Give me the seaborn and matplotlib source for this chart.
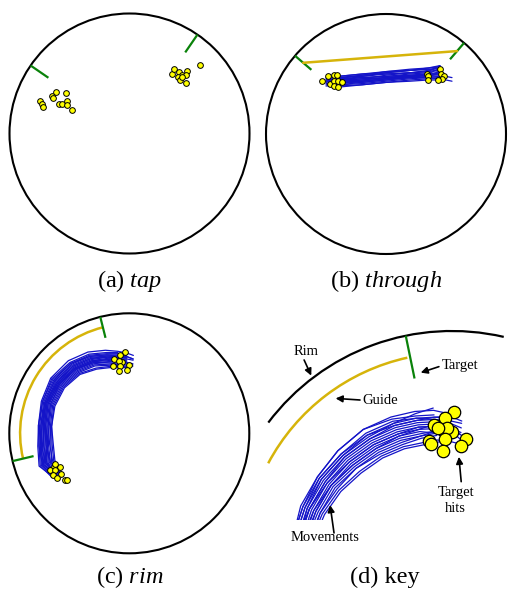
import numpy as np
import pandas as pd
import matplotlib
matplotlib.use("Agg")
import matplotlib.pyplot as plt
from matplotlib.patches import Circle, Arc
import seaborn as sns

# every panel uses the rim (touch surface edge) as the unit circle
RIM_R = 1.0
GUIDE_R = 0.91
TICK_IN = 0.82

# target tick angles (degrees)
tap_targets = [145.5, 55.5]
through_targets = [139.3, 49.4]
rim_targets = [193.4, 104.0]
key_target = 101.6

# (a) tap - hits only
tap_hits_x = [-0.75, -0.73, -0.72, -0.65, -0.64, -0.61, -0.53, -0.59, -0.56, -0.52, -0.52, -0.48,
              0.35, 0.37, 0.41, 0.44, 0.40, 0.48, 0.47, 0.42, 0.47, 0.59, 0.44]
tap_hits_y = [0.27, 0.25, 0.22, 0.31, 0.30, 0.35, 0.34, 0.25, 0.25, 0.27, 0.24, 0.20,
              0.50, 0.54, 0.51, 0.49, 0.47, 0.52, 0.49, 0.45, 0.42, 0.57, 0.47]

# (b) through
through_hits_x = [-0.53, -0.48, -0.47, -0.43, -0.41, -0.43, -0.40, -0.37, -0.43, -0.40,
                  0.34, 0.35, 0.35, 0.45, 0.46, 0.48, 0.47, 0.43]
through_hits_y = [0.44, 0.48, 0.42, 0.49, 0.49, 0.44, 0.44, 0.43, 0.40, 0.39,
                  0.50, 0.48, 0.45, 0.54, 0.50, 0.48, 0.46, 0.45]
through_x = [-0.50, -0.40, -0.20, 0.00, 0.20, 0.35, 0.45, 0.55]
through_traces = [
    [0.44, 0.45, 0.47, 0.48, 0.49, 0.50, 0.51, np.nan],
    [np.nan, 0.48, 0.50, 0.51, 0.53, 0.54, 0.55, np.nan],
    [0.42, 0.43, 0.44, 0.46, 0.47, 0.48, 0.47, np.nan],
    [np.nan, 0.40, 0.41, 0.43, 0.45, 0.46, 0.46, 0.44],
    [0.46, 0.47, 0.48, 0.50, 0.51, 0.52, 0.53, np.nan],
    [np.nan, 0.44, 0.46, 0.49, 0.51, 0.53, 0.55, np.nan],
    [0.45, 0.46, 0.47, 0.48, 0.50, 0.51, 0.50, np.nan],
    [np.nan, 0.39, 0.41, 0.43, 0.44, 0.45, 0.45, np.nan],
    [0.43, 0.45, 0.48, 0.51, 0.53, 0.55, 0.56, np.nan],
    [np.nan, 0.46, 0.49, 0.52, 0.53, 0.54, 0.52, np.nan],
    [0.41, 0.42, 0.44, 0.46, 0.48, 0.50, 0.51, np.nan],
    [np.nan, 0.43, 0.45, 0.47, 0.48, 0.49, 0.48, np.nan],
    [0.47, 0.48, 0.50, 0.52, 0.54, 0.55, 0.57, np.nan],
    [np.nan, 0.45, 0.46, 0.47, 0.49, 0.50, 0.49, 0.47],
    [0.44, 0.44, 0.45, 0.47, 0.48, 0.49, 0.52, np.nan],
    [np.nan, 0.42, 0.44, 0.46, 0.48, 0.50, 0.55, np.nan],
    [0.40, 0.41, 0.42, 0.44, 0.46, 0.47, 0.48, np.nan],
    [np.nan, 0.47, 0.49, 0.50, 0.51, 0.52, 0.57, np.nan],
    [0.45, 0.44, 0.43, 0.45, 0.47, 0.47, 0.46, np.nan],
    [np.nan, 0.41, 0.43, 0.45, 0.47, 0.49, 0.50, np.nan],
]

# (c) rim - movements sampled as radius at fixed angles (degrees)
rim_hits_x = [-0.04, -0.08, -0.13, -0.06, -0.09, 0.00, -0.14, -0.08, -0.02, -0.09,
              -0.63, -0.58, -0.66, -0.62, -0.57, -0.64, -0.60, -0.54, -0.52, -0.62]
rim_hits_y = [0.68, 0.65, 0.62, 0.59, 0.60, 0.57, 0.56, 0.56, 0.53, 0.52,
              -0.28, -0.28, -0.31, -0.31, -0.34, -0.35, -0.37, -0.39, -0.39, -0.26]
rim_angles = [210, 200, 188, 175, 160, 145, 130, 117, 106, 98, 92, 87]
rim_traces = [
    [0.65, 0.66, 0.64, 0.65, 0.66, 0.66, 0.64, 0.60, 0.57, 0.55, 0.55, np.nan],
    [0.67, 0.67, 0.65, 0.65, 0.67, 0.67, 0.65, 0.61, 0.58, 0.56, 0.56, 0.56],
    [0.68, 0.69, 0.66, 0.66, 0.68, 0.68, 0.66, 0.63, 0.59, 0.57, 0.57, np.nan],
    [0.66, 0.70, 0.68, 0.67, 0.69, 0.69, 0.67, 0.64, 0.60, 0.58, np.nan, np.nan],
    [0.70, 0.72, 0.69, 0.68, 0.70, 0.70, 0.68, 0.65, 0.62, 0.60, 0.59, 0.58],
    [0.69, 0.73, 0.70, 0.69, 0.71, 0.72, 0.70, 0.67, 0.63, 0.61, 0.60, np.nan],
    [0.71, 0.74, 0.71, 0.70, 0.72, 0.73, 0.71, 0.68, 0.64, 0.62, 0.62, np.nan],
    [0.72, 0.75, 0.72, 0.71, 0.73, 0.74, 0.72, 0.69, 0.66, 0.63, np.nan, np.nan],
    [0.70, 0.76, 0.73, 0.72, 0.74, 0.75, 0.73, 0.70, 0.67, 0.65, 0.64, 0.62],
    [0.73, 0.77, 0.74, 0.73, 0.75, 0.76, 0.75, 0.72, 0.68, 0.66, 0.65, np.nan],
    [0.72, 0.78, 0.75, 0.74, 0.76, 0.77, 0.76, 0.73, 0.69, 0.67, 0.66, np.nan],
    [0.74, 0.79, 0.76, 0.75, 0.77, 0.79, 0.77, 0.74, 0.70, 0.68, np.nan, np.nan],
    [0.73, 0.80, 0.77, 0.76, 0.78, 0.80, 0.79, 0.76, 0.72, 0.69, 0.67, 0.65],
    [0.68, 0.71, 0.69, 0.70, 0.72, 0.71, 0.69, 0.66, 0.62, 0.60, 0.61, np.nan],
    [0.66, 0.68, 0.67, 0.68, 0.70, 0.71, 0.70, 0.66, 0.61, 0.58, 0.58, 0.57],
    [0.71, 0.73, 0.72, 0.72, 0.74, 0.74, 0.73, 0.70, 0.66, 0.64, 0.63, np.nan],
    [0.74, 0.77, 0.76, 0.76, 0.77, 0.78, 0.76, 0.72, 0.68, 0.65, 0.64, 0.62],
    [0.69, 0.74, 0.74, 0.74, 0.75, 0.76, 0.74, 0.71, 0.67, 0.64, np.nan, np.nan],
    [0.67, 0.70, 0.70, 0.71, 0.73, 0.72, 0.70, 0.67, 0.64, 0.62, 0.62, 0.61],
    [0.72, 0.76, 0.75, 0.73, 0.74, 0.73, 0.71, 0.68, 0.65, 0.63, 0.63, np.nan],
]

# (d) key - magnified end of a rim gesture
key_hits_x = [0.01, -0.03, -0.08, -0.04, 0.00, -0.02, -0.03, 0.06, -0.10, -0.09, 0.04, -0.04, -0.06]
key_hits_y = [0.65, 0.62, 0.59, 0.57, 0.56, 0.58, 0.53, 0.53, 0.52, 0.51, 0.50, 0.48, 0.58]
key_angles = [172, 160, 148, 136, 124, 113, 104, 97, 91, 86]
key_traces = [
    [0.61, 0.59, 0.57, 0.55, 0.54, 0.53, 0.52, 0.52, 0.53, np.nan],
    [0.62, 0.60, 0.58, 0.56, 0.55, 0.54, 0.53, 0.53, 0.52, 0.51],
    [0.63, 0.61, 0.59, 0.58, 0.56, 0.55, 0.55, 0.55, np.nan, np.nan],
    [0.64, 0.62, 0.61, 0.59, 0.58, 0.57, 0.56, 0.56, 0.55, np.nan],
    [0.65, 0.63, 0.62, 0.60, 0.59, 0.58, 0.57, 0.57, 0.57, 0.55],
    [0.65, 0.64, 0.63, 0.62, 0.61, 0.60, 0.59, 0.58, np.nan, np.nan],
    [0.66, 0.65, 0.64, 0.63, 0.62, 0.61, 0.60, 0.59, 0.59, np.nan],
    [0.67, 0.66, 0.65, 0.64, 0.63, 0.62, 0.61, 0.60, 0.60, 0.58],
    [0.67, 0.67, 0.66, 0.65, 0.64, 0.63, 0.62, 0.61, np.nan, np.nan],
    [0.68, 0.67, 0.67, 0.66, 0.66, 0.64, 0.63, 0.62, 0.61, np.nan],
    [0.69, 0.68, 0.68, 0.67, 0.67, 0.66, 0.64, 0.63, 0.63, 0.61],
    [0.70, 0.69, 0.69, 0.69, 0.69, 0.67, 0.65, 0.64, np.nan, np.nan],
    [0.70, 0.70, 0.69, 0.69, 0.69, 0.68, 0.67, 0.66, 0.64, np.nan],
    [0.62, 0.61, 0.60, 0.58, 0.57, 0.56, 0.56, 0.57, 0.58, 0.56],
    [0.66, 0.64, 0.62, 0.61, 0.60, 0.59, 0.58, 0.56, 0.53, np.nan],
    [0.68, 0.66, 0.65, 0.65, 0.64, 0.64, 0.63, 0.63, 0.62, np.nan],
    [0.69, 0.68, 0.67, 0.66, 0.65, 0.65, 0.66, 0.67, np.nan, np.nan],
    [0.64, 0.63, 0.62, 0.60, 0.59, 0.59, 0.59, 0.60, 0.61, 0.60],
    [0.67, 0.66, 0.64, 0.62, 0.61, 0.60, 0.60, 0.59, 0.57, 0.53],
    [0.70, 0.69, 0.68, 0.67, 0.66, 0.65, 0.64, 0.62, 0.59, 0.55],
]

BLUE = "#1414c8"
HIT = "#ffff00"
GREEN = "#0a820a"
GOLD = "#d6b40a"

sns.set_theme(style="white")
plt.rcParams["font.family"] = ["Liberation Serif", "DejaVu Serif"]
plt.rcParams["text.color"] = "black"
plt.rcParams["mathtext.fontset"] = "custom"
plt.rcParams["mathtext.rm"] = "Liberation Serif"
plt.rcParams["mathtext.it"] = "Liberation Serif:italic"

W, H = 508, 591
fig = plt.figure(figsize=(W / 100, H / 100), dpi=100)


def panel_axes(cx, cy, r=120, pad=1.06):
    # axes in pixel space, centred on the rim circle
    half = r * pad
    ax = fig.add_axes([(cx - half) / W, 1 - (cy + half) / H, 2 * half / W, 2 * half / H])
    ax.set_axis_off()
    return ax


def polar_xy(angle_deg, r):
    a = np.deg2rad(angle_deg)
    return r * np.cos(a), r * np.sin(a)


def draw_rim(ax):
    ax.add_patch(Circle((0, 0), RIM_R, fill=False, ec="black", lw=1.5))


def draw_targets(ax, angles, r_in=TICK_IN, lw=1.6):
    for a in angles:
        x0, y0 = polar_xy(a, r_in)
        x1, y1 = polar_xy(a, RIM_R)
        ax.plot([x0, x1], [y0, y1], color=GREEN, lw=lw, solid_capstyle="butt")


def draw_hits(ax, xs, ys, s=17, lw=0.7):
    sns.scatterplot(x=xs, y=ys, ax=ax, s=s, color=HIT, edgecolor="black",
                    linewidth=lw, zorder=5, legend=False)


def draw_traces(ax, df, lw=0.9):
    sns.lineplot(data=df, x="x", y="y", units="trace", estimator=None, sort=False,
                 color=BLUE, lw=lw, ax=ax, legend=False)
    ax.set_xlabel("")
    ax.set_ylabel("")


def through_frame():
    rows = []
    for i, ys in enumerate(through_traces):
        for x, y in zip(through_x, ys):
            if not np.isnan(y):
                rows.append({"trace": i, "x": x, "y": y})
    return pd.DataFrame(rows)


def polar_frame(angles, traces):
    rows = []
    for i, rs in enumerate(traces):
        for a, r in zip(angles, rs):
            if not np.isnan(r):
                x, y = polar_xy(a, r)
                rows.append({"trace": i, "x": x, "y": y})
    return pd.DataFrame(rows)


def square_limits(ax, pad=1.06):
    ax.set_xlim(-pad, pad)
    ax.set_ylim(-pad, pad)


# (a) tap
ax = panel_axes(129.5, 133.5)
draw_rim(ax)
draw_targets(ax, tap_targets)
draw_hits(ax, tap_hits_x, tap_hits_y)
square_limits(ax)

# (b) through
ax = panel_axes(386, 134)
draw_rim(ax)
draw_targets(ax, through_targets)
gx, gy = polar_xy(np.array(through_targets), GUIDE_R)
ax.plot(gx, gy, color=GOLD, lw=1.8)
draw_traces(ax, through_frame())
draw_hits(ax, through_hits_x, through_hits_y)
square_limits(ax)

# (c) rim
ax = panel_axes(129.3, 433.3)
draw_rim(ax)
draw_targets(ax, rim_targets)
ax.add_patch(Arc((0, 0), 2 * GUIDE_R, 2 * GUIDE_R, theta1=min(rim_targets), theta2=max(rim_targets),
                 color=GOLD, lw=1.8))
draw_traces(ax, polar_frame(rim_angles, rim_traces))
draw_hits(ax, rim_hits_x, rim_hits_y)
square_limits(ax)

# (d) key: same geometry magnified (230 px per unit)
KS, KX, KY = 230, 452, 561
ax = fig.add_axes([254 / W, 1 - 520 / H, 254 / W, 210 / H])
ax.set_axis_off()
ax.add_patch(Arc((0, 0), 2 * RIM_R, 2 * RIM_R, theta1=77, theta2=143, color="black", lw=1.6))
ax.add_patch(Arc((0, 0), 2 * 0.905, 2 * 0.905, theta1=key_target + 0.8, theta2=152, color=GOLD, lw=1.8))
draw_targets(ax, [key_target], r_in=0.81, lw=1.6)
draw_traces(ax, polar_frame(key_angles, key_traces), lw=0.9)
draw_hits(ax, key_hits_x, key_hits_y, s=80, lw=0.9)
ax.set_xlim((254 - KX) / KS, (508 - KX) / KS)
ax.set_ylim((KY - 520) / KS, (KY - 310) / KS)

arrow = dict(arrowstyle="-|>", color="black", lw=1.2, mutation_scale=10, shrinkA=0, shrinkB=0)
key_labels = [
    ("Rim", (-0.633, 0.909), (-0.643, 0.874), (-0.612, 0.806)),
    ("Target", (0.035, 0.849), (-0.057, 0.845), (-0.136, 0.819)),
    ("Guide", (-0.314, 0.697), (-0.400, 0.700), (-0.506, 0.707)),
    ("Target\nhits", (0.016, 0.262), (0.040, 0.345), (0.030, 0.453)),
    ("Movements", (-0.551, 0.103), (-0.513, 0.122), (-0.530, 0.243)),
]
for label, tpos, tail, head in key_labels:
    ax.text(*tpos, label, ha="center", va="center", fontsize=10.5, linespacing=1.35, clip_on=False)
    ax.annotate("", xy=head, xytext=tail, arrowprops=arrow, annotation_clip=False)

# captions
caption_kw = dict(ha="center", va="baseline", fontsize=17.5)
fig.text(130 / W, 1 - 287 / H, r"(a) $\mathit{tap}$", **caption_kw)
fig.text(386 / W, 1 - 287 / H, r"(b) $\mathit{through}$", **caption_kw)
fig.text(130 / W, 1 - 583 / H, r"(c) $\mathit{rim}$", **caption_kw)
fig.text(385 / W, 1 - 583 / H, "(d) key", **caption_kw)

fig.savefig("out.png", dpi=100)
